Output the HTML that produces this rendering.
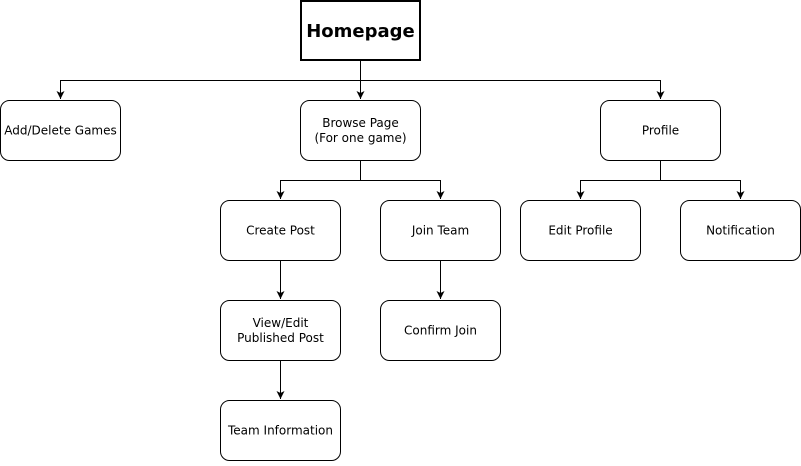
<!DOCTYPE html>
<html><head><meta charset="utf-8"><style>
body{margin:0;background:#fff;width:801px;height:461px;overflow:hidden}
</style></head><body>
<svg width="801" height="461" xmlns="http://www.w3.org/2000/svg" font-family="DejaVu Sans, sans-serif">
<defs><marker id="a" markerWidth="10" markerHeight="10" refX="8" refY="5" orient="auto" markerUnits="userSpaceOnUse"><path d="M0,1 L8,5 L0,9 L2,5 Z" fill="#000"/></marker></defs>
<g stroke="#000" fill="none" stroke-width="1">
<path d="M360.5,60 V80.5 H60.5 V99" marker-end="url(#a)"/>
<path d="M360.5,80.5 V99" marker-end="url(#a)"/>
<path d="M360.5,80.5 H660.5 V99" marker-end="url(#a)"/>
<path d="M360.5,160 V180.5 H280.5 V199" marker-end="url(#a)"/>
<path d="M360.5,180.5 H440.5 V199" marker-end="url(#a)"/>
<path d="M660.5,160 V180.5 H580.5 V199" marker-end="url(#a)"/>
<path d="M660.5,180.5 H740.5 V199" marker-end="url(#a)"/>
<path d="M280.5,260 V299" marker-end="url(#a)"/>
<path d="M280.5,360 V399" marker-end="url(#a)"/>
<path d="M440.5,260 V299" marker-end="url(#a)"/>
<rect x="301" y="1" width="119" height="59" stroke-width="2"/>
<rect x="0.5" y="100.5" width="120" height="60" rx="9"/>
<rect x="300.5" y="100.5" width="120" height="60" rx="9"/>
<rect x="600.5" y="100.5" width="120" height="60" rx="9"/>
<rect x="220.5" y="200.5" width="120" height="60" rx="9"/>
<rect x="380.5" y="200.5" width="120" height="60" rx="9"/>
<rect x="520.5" y="200.5" width="120" height="60" rx="9"/>
<rect x="680.5" y="200.5" width="120" height="60" rx="9"/>
<rect x="220.5" y="300.5" width="120" height="60" rx="9"/>
<rect x="380.5" y="300.5" width="120" height="60" rx="9"/>
<rect x="220.5" y="400.5" width="120" height="60" rx="9"/>
</g>
<g font-size="12" text-anchor="middle" fill="#000">
<text x="360.5" y="37" font-size="18" font-weight="bold">Homepage</text>
<text x="60.5" y="134.5">Add/Delete Games</text>
<text x="360.5" y="127">Browse Page</text>
<text x="360.5" y="142">(For one game)</text>
<text x="660.5" y="134.5">Profile</text>
<text x="280.5" y="234.5">Create Post</text>
<text x="440.5" y="234.5">Join Team</text>
<text x="580.5" y="234.5">Edit Profile</text>
<text x="740.5" y="234.5">Notification</text>
<text x="280.5" y="327">View/Edit</text>
<text x="280.5" y="342">Published Post</text>
<text x="440.5" y="334.5">Confirm Join</text>
<text x="280.5" y="434.5">Team Information</text>
</g>
</svg>
</body></html>
